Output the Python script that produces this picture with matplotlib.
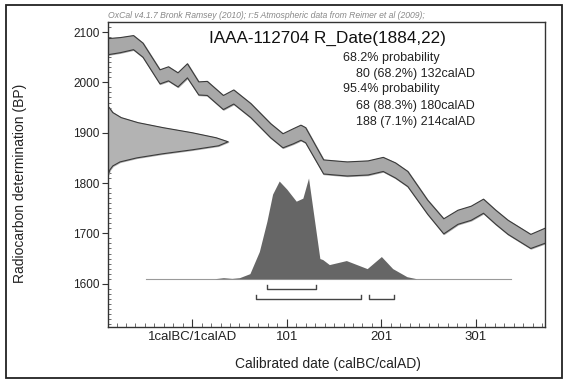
import numpy as np
import matplotlib.pyplot as plt
from matplotlib.patches import Rectangle
from matplotlib.ticker import FixedLocator, MultipleLocator

plt.rcParams['font.family'] = ['Liberation Sans', 'DejaVu Sans']

# calibration curve (IntCal09), centre line and 1 sigma half width
curve_year = [-88, -75, -61, -51, -33, -24, -14, -4, 8, 17, 34, 45, 63, 84, 97,
              108, 116, 121, 140, 152, 165, 187, 203, 216, 229, 250, 267, 282,
              296, 309, 322, 335, 359, 375]
curve_bp = [2071, 2074, 2079, 2064, 2011, 2017, 2005, 2023, 1988, 1988, 1960, 1971,
            1944, 1904, 1884, 1893, 1900, 1895, 1832, 1830, 1828, 1830, 1837, 1825,
            1808, 1752, 1714, 1732, 1740, 1754, 1732, 1712, 1684, 1696]
curve_sigma = [16, 15, 14, 14, 14, 14, 14, 14, 13, 14, 14, 14, 14, 14, 14,
               15, 15, 15, 14, 14, 14, 14, 14, 15, 15, 14, 15, 14,
               14, 14, 14, 14, 14, 15]

# radiocarbon date profile (relative)
date_bp = [1950, 1940, 1930, 1920, 1910, 1900, 1890, 1882, 1874, 1866, 1858,
           1850, 1842, 1834, 1826, 1818]
date_h = [0.01, 0.04, 0.11, 0.25, 0.46, 0.70, 0.90, 1.00, 0.92, 0.70, 0.45,
          0.24, 0.10, 0.04, 0.015, 0.004]

# calibrated probability (relative)
post_year = [-48, 25, 34, 43, 51, 62, 72, 80, 86, 93, 101, 111, 118, 124, 130,
             136, 139, 146, 164, 186, 201, 213, 228, 238, 338]
post_prob = [0, 0, 0.01, 0.003, 0.01, 0.05, 0.27, 0.57, 0.84, 0.97, 0.89, 0.77,
             0.80, 1.0, 0.60, 0.20, 0.19, 0.14, 0.18, 0.10, 0.22, 0.10, 0.02, 0, 0]

# ranges
range68 = [(80, 132)]
range95 = [(68, 180), (188, 214)]

title = 'IAAA-112704 R_Date(1884,22)'
summary = [('68.2% probability', 'l'), ('80 (68.2%) 132calAD', 'r'),
           ('95.4% probability', 'l'), ('68 (88.3%) 180calAD', 'r'),
           ('188 (7.1%) 214calAD', 'r')]
x_ticks = [1, 101, 201, 301]
x_ticklabels = ['1calBC/1calAD', '101', '201', '301']

xmin, xmax = -88, 374
ymin, ymax = 1514, 2120

fig = plt.figure(figsize=(5.67, 3.83), dpi=100)
ax = fig.add_axes([108 / 567, 1 - 327 / 383, 437 / 567, 305 / 383])

# outer frame
fig.patches.append(Rectangle((6 / 567, 5 / 383), 556 / 567, 373 / 383,
                             transform=fig.transFigure, fill=False,
                             edgecolor='#222222', linewidth=1.3))

# calibration band
cy = np.array(curve_year)
cb = np.array(curve_bp)
cs = np.array(curve_sigma)
ax.fill_between(cy, cb - cs, cb + cs, color='#a8a8a8', zorder=2)
ax.plot(cy, cb + cs, color='#3a3a3a', lw=0.8, zorder=3)
ax.plot(cy, cb - cs, color='#3a3a3a', lw=0.8, zorder=3)

# radiocarbon date on the y axis
gx = xmin + np.array(date_h) * 127
ax.fill_betweenx(date_bp, xmin, gx, color='#b3b3b3', zorder=2)
ax.plot(gx, date_bp, color='#3a3a3a', lw=0.8, zorder=3)

# calibrated distribution
base = 1610
ax.plot([post_year[0], post_year[-1]], [base, base], color='#9a9a9a', lw=0.8, zorder=2)
ax.fill_between(post_year, base, base + np.array(post_prob) * 200,
                color='#666666', lw=0, zorder=3)

# ranges
for ranges, yb in [(range68, 1590), (range95, 1570)]:
    for a, b in ranges:
        ax.plot([a, a, b, b], [yb + 8, yb, yb, yb + 8], color='#444444', lw=1, zorder=3)

ax.set_xlim(xmin, xmax)
ax.set_ylim(ymin, ymax)

ax.xaxis.set_major_locator(FixedLocator(x_ticks))
ax.set_xticklabels(x_ticklabels)
ax.xaxis.set_minor_locator(FixedLocator(np.arange(-79, 374, 10)))
ax.yaxis.set_major_locator(MultipleLocator(100))
ax.yaxis.set_minor_locator(MultipleLocator(10))
ax.tick_params(axis='x', which='major', direction='in', length=6, width=0.8,
               colors='#333333', labelsize=9.5, labelcolor='#222222', pad=3)
ax.tick_params(axis='x', which='minor', direction='in', length=3, width=0.6, colors='#555555')
ax.tick_params(axis='y', which='major', direction='out', length=4, width=0.8,
               colors='#333333', labelsize=8.5, labelcolor='#222222', pad=2)
ax.tick_params(axis='y', which='minor', direction='in', length=2.5, width=0.6, colors='#555555')
for s in ax.spines.values():
    s.set_color('#333333')
    s.set_linewidth(1)

ax.set_xlabel('Calibrated date (calBC/calAD)', fontsize=10, color='#222222')
ax.xaxis.set_label_coords(0.503, -0.098)
ax.set_ylabel('Radiocarbon determination (BP)', fontsize=10, color='#222222')
ax.yaxis.set_label_coords(-0.185, 0.47)

ax.text(0, 1.02, 'OxCal v4.1.7 Bronk Ramsey (2010); r:5 Atmospheric data from Reimer et al (2009);',
        transform=ax.transAxes, fontsize=6.2, style='italic', color='#888888',
        ha='left', va='center')


def px_to_year(px):
    return 1 + (px - 191.7) / 0.945


ax.text(px_to_year(327), 2088, title, fontsize=12.3, ha='center', va='center', color='#111111')
yy = [2048, 2016, 1986, 1954, 1922]
for (txt, al), y in zip(summary, yy):
    if al == 'l':
        ax.text(px_to_year(342), y, txt, fontsize=9, ha='left', va='center', color='#222222')
    else:
        ax.text(px_to_year(474), y, txt, fontsize=9, ha='right', va='center', color='#222222')

fig.savefig('out.png', dpi=100)
